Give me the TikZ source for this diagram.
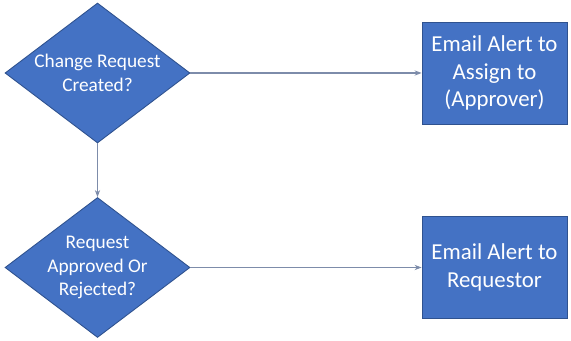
\documentclass[tikz,border=0pt]{standalone}
\usepackage{fontspec}
\setmainfont{Carlito}
\usetikzlibrary{shapes.geometric,arrows.meta}
\definecolor{boxblue}{RGB}{68,114,196}
\definecolor{edgeblue}{RGB}{47,82,143}
\definecolor{linegray}{RGB}{125,140,170}
\tikzset{
	decision/.style={diamond, fill=boxblue, draw=edgeblue, line width=0.5pt, inner sep=0pt, minimum width=3.7cm, minimum height=2.8cm},
	dectext/.style={align=center, text=white, font=\fontsize{11}{13.5}\selectfont},
	alert/.style={rectangle, fill=boxblue, draw=edgeblue, line width=0.5pt, minimum width=2.9cm, minimum height=2.04cm, align=center, text=white, font=\fontsize{13}{15.5}\selectfont},
	flow/.style={linegray, line width=0.6pt, -{Stealth[length=4pt,width=3pt]}}
}

\begin{document}
\begin{tikzpicture}[x=0.02cm, y=-0.02cm]
			%%%%% START %%%%%
			\useasboundingbox (0, 0) rectangle (571, 341);
			
			\node[decision, label={[dectext]center:Change Request\\Created?}] (created) at (97.5, 73) {};
			\node[decision, label={[dectext]center:Request\\Approved Or\\Rejected?}] (approved) at (97.5, 267.5) {};
			
			\node[alert] (assign) at (494.5, 73) {Email Alert to\\Assign to\\(Approver)};
			\node[alert] (requestor) at (494.5, 267.5) {Email Alert to\\Requestor};
			
			\draw[flow] (created.south) -- (approved.north);
			\draw[flow] (created.east) -- (assign.west);
			\draw[flow] (approved.east) -- (requestor.west);
			%%%%% END %%%%%
		\end{tikzpicture}
\end{document}
